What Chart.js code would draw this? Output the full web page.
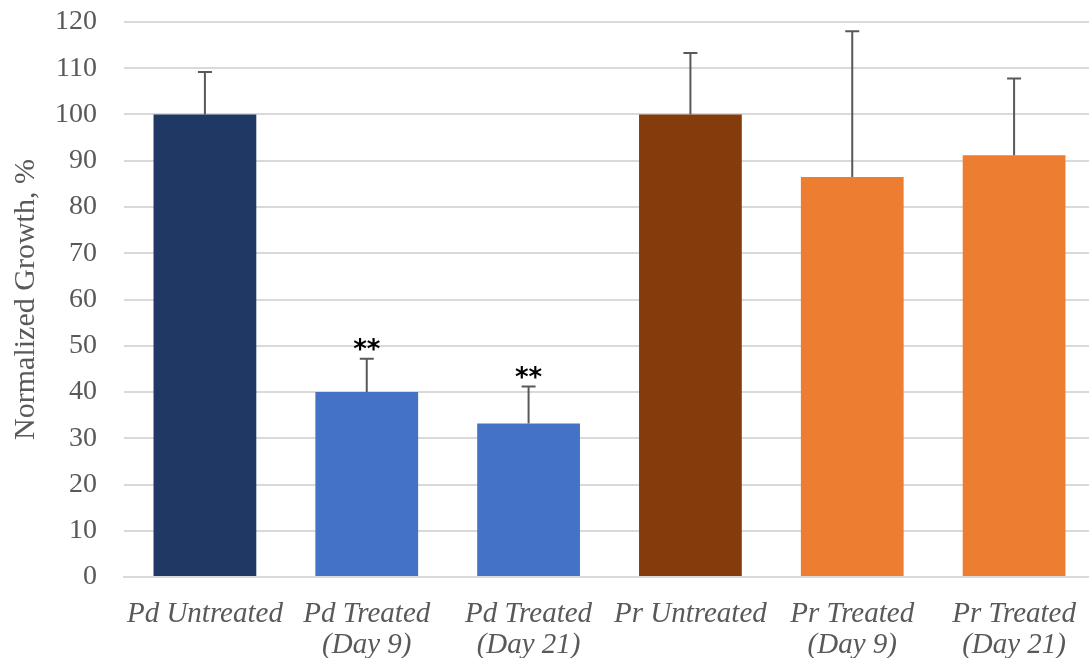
<!DOCTYPE html>
<html lang="en">
<head>
    <meta charset="UTF-8">
    <title>Normalized Growth</title>
    <script src="https://cdn.jsdelivr.net/npm/chart.js"></script>
    <style>
        html, body { margin: 0; padding: 0; background: #fff; overflow: hidden; }
        #wrap { width: 1099px; height: 658px; }
    </style>
</head>
<body>
    <div id="wrap"><canvas id="growthChart"></canvas></div>
    <script>
        const groups = [
            ["Pd Untreated"],
            ["Pd Treated", "(Day 9)"],
            ["Pd Treated", "(Day 21)"],
            ["Pr Untreated"],
            ["Pr Treated", "(Day 9)"],
            ["Pr Treated", "(Day 21)"]
        ];
        const growth = [100, 40, 33.2, 100, 86.5, 91.2];
        const errorTop = [109.2, 47.2, 41.2, 113.3, 118, 107.8];
        const marks = ["", "**", "**", "", "", ""];
        const barColors = ["#203864", "#4472c4", "#4472c4", "#843c0c", "#ed7d31", "#ed7d31"];

        // error bars (upper only) and significance stars
        const errorBars = {
            id: "errorBars",
            afterDatasetsDraw(chart) {
                const ctx = chart.ctx;
                const x = chart.scales.x, y = chart.scales.y;
                ctx.save();
                ctx.strokeStyle = "#595959";
                ctx.lineWidth = 2;
                growth.forEach((v, i) => {
                    const cx = x.getPixelForValue(i);
                    const y0 = y.getPixelForValue(v);
                    const y1 = y.getPixelForValue(errorTop[i]);
                    ctx.beginPath();
                    ctx.moveTo(cx, y0);
                    ctx.lineTo(cx, y1);
                    ctx.moveTo(cx - 7, y1);
                    ctx.lineTo(cx + 7, y1);
                    ctx.stroke();
                    if (marks[i]) {
                        ctx.fillStyle = "#000";
                        ctx.font = "bold 26px 'DejaVu Sans'";
                        ctx.textAlign = "center";
                        ctx.textBaseline = "bottom";
                        ctx.fillText(marks[i], cx, y1 + 6);
                    }
                });
                ctx.restore();
            }
        };

        new Chart(document.getElementById("growthChart"), {
            type: "bar",
            data: {
                labels: groups,
                datasets: [{ data: growth, backgroundColor: barColors, categoryPercentage: 1, barPercentage: 0.635 }]
            },
            options: {
                responsive: true,
                maintainAspectRatio: false,
                animation: false,
                layout: { padding: { top: 22, right: 4, left: 0, bottom: 0 } },
                plugins: { legend: { display: false }, tooltip: { enabled: false } },
                scales: {
                    x: {
                        grid: { display: false },
                        border: { color: "#d9d9d9", width: 2 },
                        ticks: {
                            color: "#595959",
                            maxRotation: 0,
                            autoSkip: false,
                            padding: 14,
                            font: { family: "'Liberation Serif'", size: 29, style: "italic", lineHeight: 1.07 }
                        },
                        afterFit(s) { s.height = 81; s.paddingLeft = 0; s.paddingRight = 0; }
                    },
                    y: {
                        min: 0, max: 120,
                        ticks: {
                            stepSize: 10,
                            color: "#595959",
                            padding: 27,
                            font: { family: "'Liberation Serif'", size: 28 }
                        },
                        grid: { color: "#d9d9d9", lineWidth: 2, drawTicks: false },
                        border: { display: false },
                        title: {
                            display: true,
                            text: "Normalized Growth, %",
                            color: "#595959",
                            padding: { top: 8, bottom: 0 },
                            font: { family: "'Liberation Serif'", size: 30 }
                        },
                        afterFit(s) { s.width = 124; s.paddingTop = 0; s.paddingBottom = 0; }
                    }
                }
            },
            plugins: [errorBars]
        });
    </script>
</body>
</html>
